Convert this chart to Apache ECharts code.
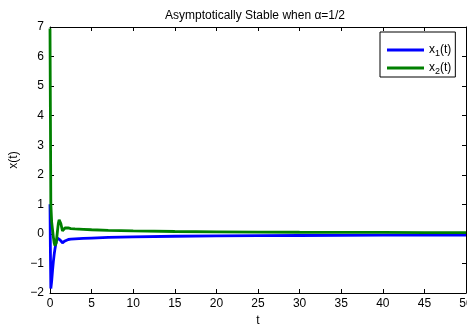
<!DOCTYPE html>
<html>
<head>
<meta charset="utf-8">
<script src="https://cdn.jsdelivr.net/npm/echarts@6/dist/echarts.min.js"></script>
<style>html,body{margin:0;padding:0;background:#fff}#c{width:467px;height:327px}</style>
</head>
<body>
<div id="c"></div>
<script>
var tValues = [0, 0.05, 0.1, 0.2, 0.3, 0.4, 0.5, 0.6, 0.75, 0.9, 1.0, 1.1, 1.2, 1.3, 1.5, 1.7, 1.8, 2.0, 2.2, 2.5, 3, 4, 5, 7, 10, 15, 20, 25, 30, 35, 40, 45, 50];
var x1Values = [1.0, -0.6, -1.85, -1.6, -1.25, -0.95, -0.7, -0.5, -0.25, -0.14, -0.12, -0.15, -0.2, -0.25, -0.3, -0.27, -0.24, -0.2, -0.19, -0.18, -0.17, -0.15, -0.14, -0.12, -0.1, -0.08, -0.07, -0.06, -0.055, -0.05, -0.045, -0.042, -0.04];
var x2Values = [6.95, 4.0, 1.0, 0.4, 0.15, -0.1, -0.3, -0.4, -0.3, 0.1, 0.35, 0.48, 0.45, 0.35, 0.1, 0.15, 0.2, 0.22, 0.2, 0.18, 0.17, 0.155, 0.14, 0.12, 0.1, 0.08, 0.07, 0.062, 0.056, 0.052, 0.049, 0.046, 0.044];
var xTicks = {min: 0, max: 50, interval: 5};
var yTicks = {min: -2, max: 7, interval: 1};
var titleText = 'Asymptotically Stable when \u03b1=1/2';

function pairs(ts, vs) { return ts.map(function (t, i) { return [t, vs[i]]; }); }
var font = 'Liberation Sans, Arial, sans-serif';
function minus(v) { return String(v).replace('-', '\u2212'); }

var chart = echarts.init(document.getElementById('c'), null, {renderer: 'canvas'});
var axisCommon = {
  axisLine: {show: true, onZero: false, lineStyle: {color: '#000', width: 1}},
  axisTick: {show: true, inside: true, length: 4, lineStyle: {color: '#000'}},
  splitLine: {show: false}
};
chart.setOption({
  animation: false,
  backgroundColor: '#fff',
  title: {
    text: titleText, left: 160, top: 5,
    textStyle: {fontFamily: font, fontSize: 12, fontWeight: 'normal', color: '#000'}
  },
  grid: {left: 50, right: 1, top: 27, bottom: 34, containLabel: false, outerBoundsMode: 'none'},
  legend: {
    orient: 'vertical', left: 380, top: 32,
    backgroundColor: '#fff', borderColor: '#000', borderWidth: 1,
    padding: [12, 4, 1, 7], itemGap: 4,
    icon: 'rect', itemWidth: 37, itemHeight: 3,
    textStyle: {fontFamily: font, fontSize: 12, color: '#000',
      rich: {s: {fontFamily: font, fontSize: 9, verticalAlign: 'bottom', padding: [7, 0, 0, 0], color: '#000'},
             n: {fontFamily: font, fontSize: 12, color: '#000'}}},
    formatter: function (name) {
      var m = name.match(/x_(\d)\(t\)/);
      return '{n|x}{s|' + m[1] + '}{n|(t)}';
    },
    data: ['x_1(t)', 'x_2(t)']
  },
  xAxis: [
    Object.assign({}, axisCommon, {
      type: 'value', min: xTicks.min, max: xTicks.max, interval: xTicks.interval,
      name: 't', nameLocation: 'middle', nameGap: 22,
      nameTextStyle: {fontFamily: font, fontSize: 12, color: '#000'},
      axisLabel: {fontFamily: font, fontSize: 12, color: '#000', margin: 5}
    }),
    Object.assign({}, axisCommon, {
      type: 'value', position: 'top', min: xTicks.min, max: xTicks.max, interval: xTicks.interval,
      axisLabel: {show: false}
    })
  ],
  yAxis: [
    Object.assign({}, axisCommon, {
      type: 'value', min: yTicks.min, max: yTicks.max, interval: yTicks.interval,
      name: 'x(t)', nameLocation: 'middle', nameGap: 30, nameRotate: 90,
      nameTextStyle: {fontFamily: font, fontSize: 12, color: '#000'},
      axisLabel: {fontFamily: font, fontSize: 12, color: '#000', margin: 6, formatter: minus}
    }),
    Object.assign({}, axisCommon, {
      type: 'value', position: 'right', min: yTicks.min, max: yTicks.max, interval: yTicks.interval,
      axisLabel: {show: false}
    })
  ],
  series: [
    {name: 'x_1(t)', type: 'line', symbol: 'none', data: pairs(tValues, x1Values),
     itemStyle: {color: '#0000ff'}, lineStyle: {color: '#0000ff', width: 2.8}, z: 3},
    {name: 'x_2(t)', type: 'line', symbol: 'none', data: pairs(tValues, x2Values),
     itemStyle: {color: '#008000'}, lineStyle: {color: '#008000', width: 2.8}, z: 4}
  ]
});
</script>
</body>
</html>
